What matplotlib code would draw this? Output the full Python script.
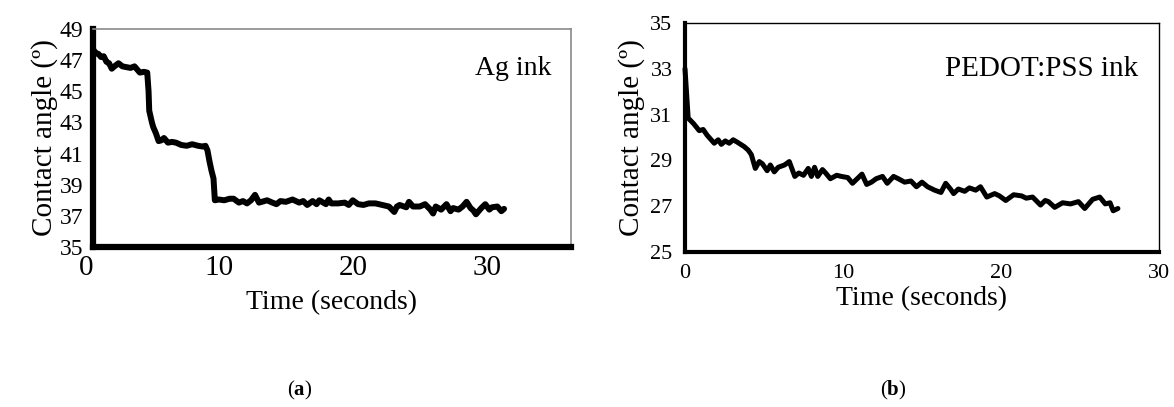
import matplotlib
matplotlib.use("Agg")
import matplotlib.pyplot as plt
from matplotlib.transforms import ScaledTranslation

plt.rcParams['font.family'] = ['Liberation Serif', 'DejaVu Serif']
plt.rcParams['mathtext.fontset'] = 'custom'
plt.rcParams['mathtext.rm'] = 'Liberation Serif'
plt.rcParams['mathtext.bf'] = 'Liberation Serif:bold'

# ---- Data: panel (a) Ag ink ----
t_ag = [0.6, 0.6, 0.8, 1.0, 1.2, 1.4, 1.6, 1.8, 2.0, 2.2, 2.5, 2.8, 3.1, 3.4, 3.7, 3.9, 4.1, 4.4, 4.65,
        4.75, 4.8, 5.0, 5.1, 5.3, 5.5, 5.7, 5.9, 6.2, 6.5, 6.8, 7.2, 7.6, 8.0, 8.45, 8.8, 9.0,
        9.15, 9.3, 9.45, 9.6, 9.7, 10.0, 10.4, 10.8, 11.1, 11.5, 11.8, 12.1, 12.4, 12.7, 13.0, 13.2,
        13.6, 14.0, 14.3, 14.6, 15.0, 15.5, 16.0, 16.3, 16.6, 17.0, 17.3, 17.5, 18.0, 18.2, 18.4, 18.9,
        19.4, 19.7, 20.0, 20.4, 20.8, 21.2, 21.7, 22.2, 22.7, 23.1, 23.3, 23.5, 24.0, 24.2, 24.5, 25.0,
        25.4, 25.8, 26.0, 26.2, 26.6, 27.0, 27.3, 27.5, 27.9, 28.2, 28.5, 28.8, 29.0, 29.2, 29.6, 29.9,
        30.2, 30.4, 30.8, 31.1, 31.3]
v_ag = [49.0, 47.7, 47.45, 47.4, 47.2, 47.25, 46.9, 46.8, 46.45, 46.6, 46.8, 46.6, 46.55, 46.5, 46.6, 46.4, 46.2, 46.25, 46.2,
        45.0, 43.75, 43.0, 42.7, 42.3, 41.8, 41.85, 42.0, 41.7, 41.75, 41.7, 41.55, 41.5, 41.6, 41.5, 41.45, 41.5,
        41.2, 40.5, 39.9, 39.4, 38.0, 38.05, 38.0, 38.1, 38.1, 37.85, 37.95, 37.8, 38.0, 38.35, 37.85, 37.9,
        38.0, 37.85, 37.75, 37.95, 37.9, 38.05, 37.85, 37.95, 37.7, 37.95, 37.75, 38.0, 37.75, 38.05, 37.8, 37.8,
        37.85, 37.7, 38.0, 37.75, 37.7, 37.8, 37.8, 37.7, 37.6, 37.25, 37.6, 37.7, 37.55, 37.9, 37.6, 37.6,
        37.75, 37.4, 37.15, 37.6, 37.4, 37.75, 37.3, 37.5, 37.4, 37.6, 37.9, 37.5, 37.35, 37.1, 37.5, 37.75,
        37.4, 37.55, 37.6, 37.3, 37.45]

# ---- Data: panel (b) PEDOT:PSS ink ----
t_pe = [0.0, 0.2, 0.55, 0.9, 1.15, 1.4, 1.85, 2.1, 2.3, 2.55, 2.8, 3.05, 3.3, 3.75, 4.0, 4.2, 4.45, 4.7, 4.9,
        5.2, 5.4, 5.65, 5.9, 6.3, 6.6, 6.95, 7.2, 7.5, 7.8, 8.0, 8.2, 8.4, 8.7, 8.9, 9.2, 9.6, 9.9,
        10.3, 10.6, 10.9, 11.2, 11.5, 11.8, 12.1, 12.5, 12.8, 13.2, 13.5, 13.9, 14.3, 14.65, 15.0, 15.35,
        15.8, 16.2, 16.5, 16.8, 17.0, 17.3, 17.7, 18.0, 18.4, 18.7, 19.1, 19.6, 19.9, 20.3, 20.8, 21.3,
        21.6, 22.0, 22.5, 22.8, 23.0, 23.4, 23.9, 24.4, 24.9, 25.3, 25.8, 26.25, 26.6, 26.9, 27.1, 27.4]
v_pe = [33.0, 30.85, 30.6, 30.3, 30.35, 30.1, 29.75, 29.9, 29.7, 29.85, 29.75, 29.9, 29.8, 29.6, 29.45, 29.25, 28.65, 28.95, 28.85,
        28.55, 28.8, 28.5, 28.7, 28.8, 28.95, 28.3, 28.45, 28.35, 28.65, 28.3, 28.7, 28.3, 28.6, 28.45, 28.2, 28.35, 28.3,
        28.25, 28.0, 28.2, 28.4, 27.95, 28.05, 28.2, 28.3, 28.0, 28.3, 28.2, 28.05, 28.1, 27.85, 28.05, 27.85,
        27.7, 27.6, 28.0, 27.75, 27.55, 27.75, 27.65, 27.8, 27.7, 27.85, 27.4, 27.55, 27.45, 27.25, 27.5, 27.45,
        27.35, 27.4, 27.05, 27.25, 27.2, 26.95, 27.15, 27.1, 27.2, 26.9, 27.3, 27.4, 27.1, 27.15, 26.8, 26.9]

x_ticks_a = [0.6, 10, 20, 30]
x_ticklabels_a = ['0', '10', '20', '30']
y_ticks_a = [35, 37, 39, 41, 43, 45, 47, 49]
x_ticks_b = [0, 10, 20, 30]
y_ticks_b = [25, 27, 29, 31, 33, 35]

fig = plt.figure(figsize=(11.74, 4.07), dpi=100)

# ---------- panel (a) ----------
ax1 = fig.add_axes([93/1174, 1-247/407, 478/1174, 218/407])
ax1.plot(t_ag, v_ag, color='black', lw=4.3, solid_joinstyle='round', solid_capstyle='round', clip_on=False)
ax1.set_xlim(0.6, 36.3)
ax1.set_ylim(35, 49)
ax1.set_xticks(x_ticks_a)
ax1.set_xticklabels(x_ticklabels_a)
ax1.set_yticks(y_ticks_a)
ax1.tick_params(axis='both', length=0)
ax1.tick_params(axis='y', labelsize=17, pad=7)
ax1.tick_params(axis='x', labelsize=21, pad=6)
lbl0 = ax1.get_xticklabels()[0]
lbl0.set_transform(lbl0.get_transform() + ScaledTranslation(-7/100, 0, fig.dpi_scale_trans))
for s in ['left', 'bottom']:
    ax1.spines[s].set_linewidth(4.5)
    ax1.spines[s].set_color('black')
for s in ['top', 'right']:
    ax1.spines[s].set_linewidth(1.2)
    ax1.spines[s].set_color('#8a8a8a')
ax1.set_xlabel('Time (seconds)', fontsize=20, labelpad=6)
ax1.set_ylabel('Contact angle (º)', fontsize=21, labelpad=1)
ax1.text(0.96, 0.82, 'Ag ink', transform=ax1.transAxes, ha='right', va='center', fontsize=20)

# ---------- panel (b) ----------
ax2 = fig.add_axes([685/1174, 1-252/407, 474/1174, 229/407])
ax2.plot(t_pe, v_pe, color='black', lw=3.6, solid_joinstyle='round', solid_capstyle='round', clip_on=False)
ax2.set_xlim(0, 30)
ax2.set_ylim(25, 35)
ax2.set_xticks(x_ticks_b)
ax2.set_yticks(y_ticks_b)
ax2.tick_params(axis='both', length=0, labelsize=16)
ax2.tick_params(axis='y', pad=9)
ax2.tick_params(axis='x', pad=9)
for s in ['left', 'bottom']:
    ax2.spines[s].set_linewidth(3.0)
    ax2.spines[s].set_color('black')
for s in ['top', 'right']:
    ax2.spines[s].set_linewidth(1.0)
    ax2.spines[s].set_color('black')
ax2.set_xlabel('Time (seconds)', fontsize=20, labelpad=2)
ax2.set_ylabel('Contact angle (º)', fontsize=21, labelpad=4)
ax2.text(0.955, 0.80, 'PEDOT:PSS ink', transform=ax2.transAxes, ha='right', va='center', fontsize=21)

# ---------- panel captions ----------
fig.text(300/1174, 1-390/407, r'($\mathbf{a}$)', ha='center', va='center', fontsize=15)
fig.text(893/1174, 1-390/407, r'($\mathbf{b}$)', ha='center', va='center', fontsize=15)

fig.savefig('out.png', dpi=100)
